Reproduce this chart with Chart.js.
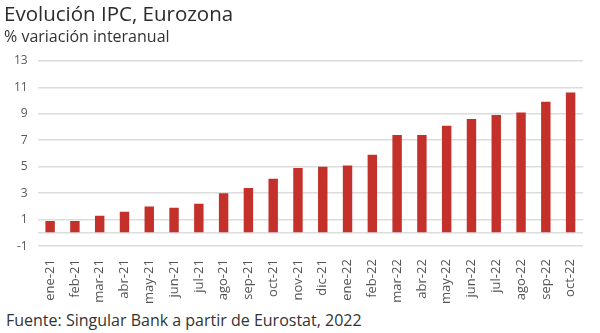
<!DOCTYPE html>
<html>
<head>
<meta charset="utf-8">
<script src="https://cdn.jsdelivr.net/npm/chart.js@4.4.1/dist/chart.umd.min.js"></script>
<style>
  html, body { margin: 0; padding: 0; background: #fff; }
  #wrap { position: relative; width: 600px; height: 333px; }
  #chartBox { position: absolute; left: 0; top: 0; width: 600px; height: 309px; }
  #source { position: absolute; left: 6px; top: 309px; font-family: "Open Sans", sans-serif; font-size: 16px; color: #333; white-space: nowrap; }
</style>
</head>
<body>
<div id="wrap">
  <div id="chartBox"><canvas id="ipcChart"></canvas></div>
  <div id="source">Fuente: Singular Bank a partir de Eurostat, 2022</div>
</div>
<script>
// meses
const months = ["ene-21", "feb-21", "mar-21", "abr-21", "may-21", "jun-21", "jul-21", "ago-21", "sep-21", "oct-21", "nov-21", "dic-21",
    "ene-22", "feb-22", "mar-22", "abr-22", "may-22", "jun-22", "jul-22", "ago-22", "sep-22", "oct-22"];
// IPC interanual, %
const ipcValues = [0.9, 0.9, 1.3, 1.6, 2.0, 1.9, 2.2, 3.0, 3.4, 4.1, 4.9, 5.0,
    5.1, 5.9, 7.4, 7.4, 8.1, 8.6, 8.9, 9.1, 9.9, 10.6];
const yTicks = [-1, 0, 1, 3, 5, 7, 9, 11, 13];

const ctx = document.getElementById("ipcChart").getContext("2d");

new Chart(ctx, {
    type: "bar",
    data: {
        labels: months,
        datasets: [{
            label: "IPC Eurozona",
            data: ipcValues,
            backgroundColor: "#c3312a",
            barPercentage: 0.38,
            categoryPercentage: 1
        }]
    },
    options: {
        responsive: true,
        maintainAspectRatio: false,
        animation: false,
        layout: { padding: { left: 4, right: 17, top: 1, bottom: 0 } },
        plugins: {
            legend: { display: false },
            tooltip: { enabled: false },
            title: {
                display: true,
                text: "Evolución IPC, Eurozona",
                align: "start",
                color: "#2b2b2b",
                font: { family: "Open Sans", size: 20.5, weight: "normal" },
                padding: { top: 2, bottom: 0 }
            },
            subtitle: {
                display: true,
                text: "% variación interanual",
                align: "start",
                color: "#333",
                font: { family: "Open Sans", size: 16 },
                padding: { bottom: 14 }
            }
        },
        scales: {
            x: {
                grid: { display: false },
                border: { display: false },
                ticks: {
                    color: "#555",
                    font: { family: "Open Sans", size: 13 },
                    minRotation: 90,
                    maxRotation: 90,
                    autoSkip: false,
                    padding: 5
                }
            },
            y: {
                min: -1,
                max: 13,
                afterBuildTicks: function (axis) {
                    axis.ticks = yTicks.map(function (v) { return { value: v }; });
                },
                grid: { color: "#dcdcdc", lineWidth: 1.5, drawTicks: false },
                border: { display: false },
                ticks: {
                    color: "#595959",
                    font: { family: "Open Sans", size: 12 },
                    padding: 10,
                    callback: function (value) { return value === 0 ? "" : value; }
                }
            }
        }
    }
});
</script>
</body>
</html>
